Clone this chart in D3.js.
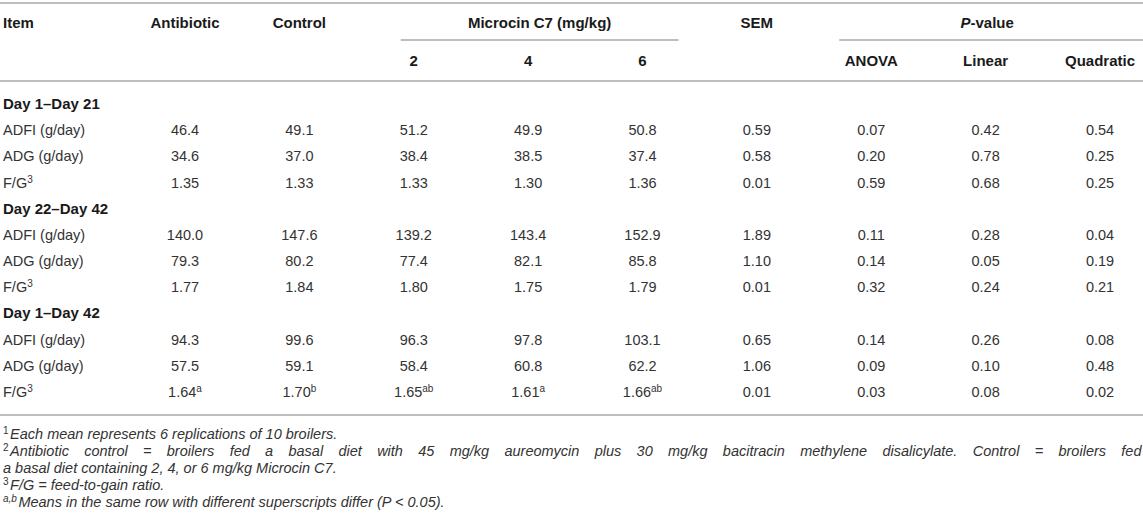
<!DOCTYPE html>
<html>
<head>
<meta charset="utf-8">
<script src="https://cdn.jsdelivr.net/npm/d3@7"></script>
<style>
  body { margin: 0; background: #fff; }
  text { font-family: "Liberation Sans", Arial, sans-serif; }
</style>
</head>
<body>
<div id="table-chart"></div>
<script>
// columns of the table
var columns = ["Antibiotic", "Control", "2", "4", "6", "SEM", "ANOVA", "Linear", "Quadratic"];
var periods = ["Day 1\u2013Day 21", "Day 22\u2013Day 42", "Day 1\u2013Day 42"];
var items = ["ADFI (g/day)", "ADG (g/day)", "F/G"];

// one value per item row, in period order
var antibiotic = ["46.4", "34.6", "1.35", "140.0", "79.3", "1.77", "94.3", "57.5", "1.64"];
var control    = ["49.1", "37.0", "1.33", "147.6", "80.2", "1.84", "99.6", "59.1", "1.70"];
var mc2        = ["51.2", "38.4", "1.33", "139.2", "77.4", "1.80", "96.3", "58.4", "1.65"];
var mc4        = ["49.9", "38.5", "1.30", "143.4", "82.1", "1.75", "97.8", "60.8", "1.61"];
var mc6        = ["50.8", "37.4", "1.36", "152.9", "85.8", "1.79", "103.1", "62.2", "1.66"];
var sem        = ["0.59", "0.58", "0.01", "1.89", "1.10", "0.01", "0.65", "1.06", "0.01"];
var anova      = ["0.07", "0.20", "0.59", "0.11", "0.14", "0.32", "0.14", "0.09", "0.03"];
var linear     = ["0.42", "0.78", "0.68", "0.28", "0.05", "0.24", "0.26", "0.10", "0.08"];
var quadratic  = ["0.54", "0.25", "0.25", "0.04", "0.19", "0.21", "0.08", "0.48", "0.02"];

// letters on the last F/G row (Day 1-Day 42)
var lastRowLetters = ["a", "b", "ab", "a", "ab"];

var footnotes = [
  {sup: "1", text: "Each mean represents 6 replications of 10 broilers."},
  {sup: "2", text: "Antibiotic control = broilers fed a basal diet with 45 mg/kg aureomycin plus 30 mg/kg bacitracin methylene disalicylate. Control = broilers fed", justify: true},
  {sup: "",  text: "a basal diet containing 2, 4, or 6 mg/kg Microcin C7."},
  {sup: "3", text: "F/G = feed-to-gain ratio."},
  {sup: "a,b", text: "Means in the same row with different superscripts differ (P < 0.05)."}
];

var W = 1143, H = 525;
var valueCols = [antibiotic, control, mc2, mc4, mc6, sem, anova, linear, quadratic];

// build the body rows: period heading then three item rows
var rows = [];
periods.forEach(function(p, pi) {
  rows.push({key: "p" + pi, label: p, heading: true});
  items.forEach(function(it, ii) {
    var k = pi * 3 + ii;
    rows.push({
      key: "r" + k, label: it, heading: false, fg: it === "F/G",
      values: valueCols.map(function(col, ci) {
        var sup = (k === 8 && ci < lastRowLetters.length) ? lastRowLetters[ci] : "";
        return {col: columns[ci], v: col[k], sup: sup};
      })
    });
  });
});

var x = d3.scalePoint().domain(columns).range([185, 1100]);
var y = d3.scalePoint().domain(rows.map(function(r) { return r.key; })).range([104, 392]);

var svg = d3.select("#table-chart").append("svg")
  .attr("width", W).attr("height", H);

function rule(x1, x2, yy) {
  svg.append("line")
    .attr("x1", x1).attr("x2", x2).attr("y1", yy).attr("y2", yy)
    .attr("stroke", "#bdbdbd").attr("stroke-width", 2);
}

// horizontal rules
rule(0, W, 3);
rule(x("2") - 13, x("6") + 36, 40);
rule(x("ANOVA") - 32, W, 40);
rule(0, W, 81);
rule(0, W, 415);

// header
var head = svg.append("g").style("font-weight", "bold").style("font-size", "15px").attr("fill", "#1a1a1a");

head.append("text").attr("x", 3).attr("y", 23).attr("dy", "0.35em").text("Item");
["Antibiotic", "Control", "SEM"].forEach(function(c) {
  head.append("text").attr("x", x(c)).attr("y", 23).attr("dy", "0.35em")
    .attr("text-anchor", "middle").text(c);
});
head.append("text").attr("x", (x("2") - 13 + x("6") + 36) / 2).attr("y", 23).attr("dy", "0.35em")
  .attr("text-anchor", "middle").text("Microcin C7 (mg/kg)");
var pv = head.append("text").attr("x", (x("ANOVA") - 32 + W) / 2 - 4).attr("y", 23).attr("dy", "0.35em")
  .attr("text-anchor", "middle");
pv.append("tspan").style("font-style", "italic").text("P");
pv.append("tspan").text("-value");

["2", "4", "6", "ANOVA", "Linear", "Quadratic"].forEach(function(c) {
  head.append("text").attr("x", x(c)).attr("y", 61).attr("dy", "0.35em")
    .attr("text-anchor", "middle").text(c);
});

// body
var body = svg.append("g");
var rowG = body.selectAll(".row")
  .data(rows)
  .enter()
  .append("g")
  .attr("class", "row")
  .attr("transform", function(d) { return "translate(0," + y(d.key) + ")"; });

var labels = rowG.append("text")
  .attr("x", 3)
  .attr("y", 5)
  .style("font-size", function(d) { return d.heading ? "15px" : "14.5px"; })
  .style("font-weight", function(d) { return d.heading ? "bold" : "normal"; })
  .attr("fill", function(d) { return d.heading ? "#1a1a1a" : "#333"; });

labels.append("tspan").text(function(d) { return d.label; });
labels.filter(function(d) { return d.fg; })
  .append("tspan").attr("dy", -5).style("font-size", "10px").text("3");

var cells = rowG.filter(function(d) { return !d.heading; })
  .selectAll(".cell")
  .data(function(d) { return d.values; })
  .enter()
  .append("text")
  .attr("class", "cell")
  .attr("x", function(d) { return x(d.col); })
  .attr("y", 5)
  .attr("text-anchor", "middle")
  .style("font-size", "14.5px")
  .attr("fill", "#333");

cells.append("tspan").text(function(d) { return d.v; });
cells.filter(function(d) { return d.sup; })
  .append("tspan").attr("dy", -5).style("font-size", "10px").text(function(d) { return d.sup; });

// footnotes
var fy = d3.scalePoint().domain(d3.range(footnotes.length)).range([434, 502]);
var notes = svg.append("g").selectAll("text")
  .data(footnotes)
  .enter()
  .append("text")
  .attr("x", 3)
  .attr("y", function(d, i) { return fy(i) + 5; })
  .style("font-size", "14.5px")
  .attr("fill", "#333");

notes.each(function(d) {
  var t = d3.select(this);
  if (d.sup) {
    t.append("tspan").attr("dy", -5).style("font-size", "10px")
      .style("font-style", d.sup === "a,b" ? "italic" : "normal")
      .text(d.sup);
  }
  var main = t.append("tspan")
    .attr("dy", d.sup ? 5 : 0)
    .attr("dx", d.sup ? 1.5 : 0)
    .style("font-style", "italic")
    .text(d.text);
  if (d.justify) {
    // wrapped line of a justified paragraph: stretch to the full width
    var used = this.getComputedTextLength();
    var gaps = d.text.split(" ").length - 1;
    main.attr("word-spacing", Math.max(0, (W - 6 - used) / gaps));
  }
});
</script>
</body>
</html>
